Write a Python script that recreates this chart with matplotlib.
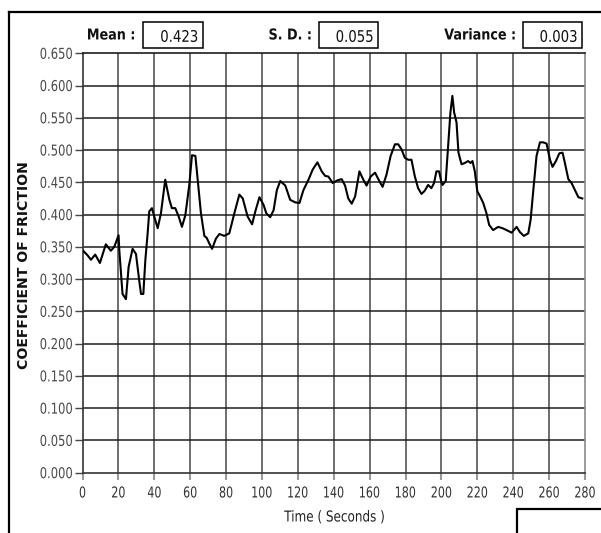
import matplotlib
matplotlib.use("Agg")
import matplotlib.pyplot as plt
from matplotlib.patches import Rectangle, PathPatch
from matplotlib.lines import Line2D
from matplotlib.textpath import TextPath
from matplotlib.font_manager import FontProperties
from matplotlib.transforms import Affine2D

# coefficient of friction (time in seconds)
time_s = [0, 2.8, 4.7, 7.1, 9.7, 13.0, 15.8, 17.7, 20.1, 20.5, 22.3, 24.2, 25.7, 27.9,
          29.8, 31.6, 32.6, 33.9, 35.0, 36.3, 37.2, 38.7, 40.5, 41.9, 43.7, 46.1, 48.4,
          49.8, 51.7, 53.6, 55.4, 57.3, 59.5, 61.0, 62.9, 64.2, 66.0, 67.9, 69.2, 70.7,
          72.2, 74.4, 76.3, 79.0, 81.8, 84.6, 87.4, 89.3, 92.0, 94.5, 96.3, 98.6,
          100.9, 102.4, 104.6, 106.5, 108.3, 110.2, 113.0, 115.7, 118.5, 120.9, 123.1,
          125.9, 128.3, 130.9, 133.3, 135.2, 137.0, 139.4, 142.0, 144.4, 146.3, 148.1,
          150.0, 151.9, 154.3, 156.5, 158.3, 160.6, 163.0, 165.4, 167.2, 169.4, 171.7,
          174.1, 175.9, 177.8, 179.6, 181.5, 183.3, 185.2, 187.0, 188.9, 190.7, 192.6,
          194.4, 195.9, 197.2, 198.7, 200.0, 200.6, 202.4, 203.7, 205.0, 206.1, 207.1,
          208.4, 209.5, 211.2, 213.0, 214.9, 216.2, 217.3, 218.6, 220.0, 221.4, 223.3,
          225.1, 226.6, 228.8, 231.6, 234.0, 236.3, 239.1, 241.9, 243.7, 245.9, 248.4,
          249.7, 251.2, 253.0, 254.9, 256.7, 258.6, 260.5, 261.9, 263.8, 265.7, 267.5,
          268.8, 270.7, 272.5, 274.4, 276.3, 278.5]
cof = [0.345, 0.337, 0.330, 0.338, 0.325, 0.354, 0.344, 0.350, 0.368, 0.345, 0.277,
       0.269, 0.319, 0.347, 0.339, 0.298, 0.277, 0.277, 0.329, 0.371, 0.405, 0.410,
       0.392, 0.379, 0.402, 0.454, 0.423, 0.410, 0.410, 0.397, 0.381, 0.399, 0.446,
       0.492, 0.491, 0.454, 0.402, 0.367, 0.364, 0.355, 0.347, 0.363, 0.370, 0.367,
       0.371, 0.402, 0.431, 0.425, 0.397, 0.385, 0.405, 0.427,
       0.415, 0.402, 0.396, 0.407, 0.438, 0.452, 0.445, 0.423, 0.419, 0.418, 0.438,
       0.454, 0.470, 0.481, 0.467, 0.460, 0.459, 0.449, 0.453, 0.455, 0.445, 0.425,
       0.417, 0.428, 0.467, 0.454, 0.445, 0.459, 0.465, 0.452, 0.443, 0.462, 0.491,
       0.509, 0.509, 0.501, 0.488, 0.485, 0.485, 0.459, 0.441, 0.432, 0.437, 0.446,
       0.441, 0.449, 0.467, 0.467, 0.450, 0.446, 0.452, 0.506, 0.558, 0.584, 0.558,
       0.543, 0.496, 0.478, 0.480, 0.483, 0.480, 0.483, 0.467, 0.436, 0.429, 0.418,
       0.402, 0.384, 0.376, 0.381, 0.379, 0.376, 0.372, 0.381, 0.373, 0.367, 0.371,
       0.392, 0.438, 0.491, 0.512, 0.512, 0.510, 0.485, 0.474, 0.483, 0.495, 0.496,
       0.480, 0.455, 0.449, 0.438, 0.427, 0.425]

stat_names = ["Mean :", "S. D. :", "Variance :"]
stat_values = ["0.423", "0.055", "0.003"]
x_ticks = list(range(0, 281, 20))
y_ticks = [i * 0.05 for i in range(14)]

W, H = 601, 533
fig = plt.figure(figsize=(W / 100, H / 100), dpi=100)
to_fig = Affine2D().scale(1 / W, 1 / H) + fig.transFigure


def fx(px):
    return px / W


def fy(py):
    return 1 - py / H


def narrow_text(x, y, s, size, sx=0.78, weight="normal", ha="center", color="#111111"):
    # the screenshot's font is squeezed sideways, so draw the glyph outlines scaled in x
    # x, y in pixels from the top left; y is the middle of the capital height
    tp = TextPath((0, 0), s, size=size, prop=FontProperties(family="DejaVu Sans", weight=weight))
    bb = tp.get_extents()
    ox = {"center": (bb.x0 + bb.x1) / 2, "right": bb.x1, "left": bb.x0}[ha]
    tr = Affine2D().translate(-ox, -0.729 * size / 2).scale(sx, 1).translate(x, H - y)
    fig.patches.append(PathPatch(tp, transform=tr + to_fig, facecolor=color, lw=0))


# plot area in pixel coords: left 82.5, right 585, top 53.3, bottom 472.7
ax = fig.add_axes([fx(82.5), fy(472.7), fx(585) - fx(82.5), fy(53.3) - fy(472.7)])
ax.plot(time_s, cof, color="black", lw=1.5, zorder=3)
ax.set_xlim(0, 280)
ax.set_ylim(0, 0.65)
ax.set_xticks(x_ticks)
ax.set_yticks(y_ticks)

for v in x_ticks[1:-1]:
    ax.axvline(v, color="#6e6e6e", lw=1.4, zorder=1)
for v in y_ticks[1:-1]:
    ax.axhline(v, color="#1e1e1e", lw=1.1, zorder=2)

ax.spines["left"].set_color("#333333")
ax.spines["bottom"].set_color("#333333")
ax.spines["top"].set_color("#1e1e1e")
ax.spines["right"].set_color("#8a8a8a")
for s in ax.spines.values():
    s.set_linewidth(1.2)

ax.tick_params(axis="y", length=6, width=1, color="#444444", labelleft=False)
ax.tick_params(axis="x", length=5, width=1.5, color="#999999", labelbottom=False)

# tick labels, placed through the axes transform
for v in y_ticks:
    _, dy = ax.transData.transform((0, v))
    narrow_text(72, H - dy, "%.3f" % v, 15, sx=0.77, ha="right", color="#4a4a4a")
for v in x_ticks:
    dx, _ = ax.transData.transform((v, 0))
    narrow_text(dx, 492, str(v), 15, sx=0.74, color="#333333")

narrow_text(334, 516, "Time ( Seconds )", 15, sx=0.8, color="#222222")
fig.text(fx(24), fy(265.5), "COEFFICIENT OF FRICTION", ha="center", va="center",
         rotation=90, fontsize=10.1, fontweight="bold", color="#111111")

# header with statistics boxes
label_x = [111, 290, 479.5]
box_x = [(143.3, 202.7), (319, 378), (523, 582)]
for name, val, lx, (b0, b1) in zip(stat_names, stat_values, label_x, box_x):
    narrow_text(lx, 34, name, 15, sx=0.85, weight="bold")
    fig.patches.append(Rectangle((fx(b0), fy(47.7)), fx(b1) - fx(b0), fy(22.3) - fy(47.7),
                                 transform=fig.transFigure, fill=False,
                                 edgecolor="black", lw=1.1))
    narrow_text(b1 - 5.5, 36, val, 16, sx=0.83, ha="right")

# outer frame and the small box at the bottom right
fig.lines.append(Line2D([fx(8.5), fx(601)], [fy(12), fy(12)], transform=fig.transFigure,
                        color="black", lw=1.6))
fig.lines.append(Line2D([fx(8.5), fx(8.5)], [fy(12), fy(533)], transform=fig.transFigure,
                        color="black", lw=1.6))
fig.patches.append(Rectangle((fx(517), fy(545)), fx(620) - fx(517), fy(509) - fy(545),
                             transform=fig.transFigure, fill=False, edgecolor="black",
                             lw=1.6))

fig.savefig("out.png", dpi=100)
